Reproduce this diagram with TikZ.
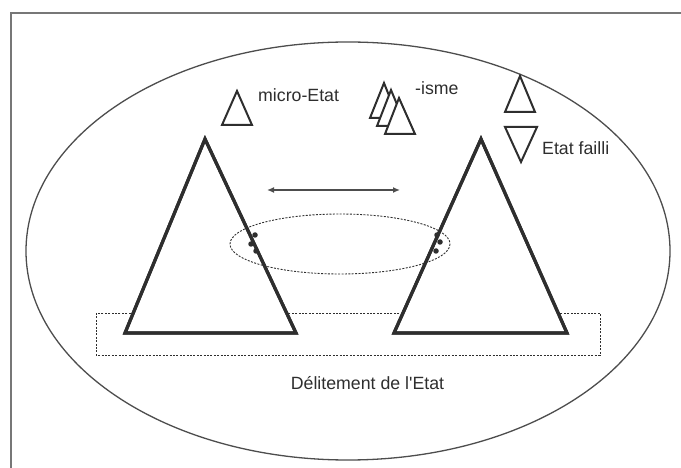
\documentclass[tikz,border=0pt]{standalone}
\usepackage{fontspec}
\setmainfont{Liberation Sans}
\usetikzlibrary{arrows.meta}
\definecolor{ink}{HTML}{2E2E2E}
\definecolor{frameink}{HTML}{777777}
\tikzset{
  bigtri/.style={draw=ink,line width=3.2bp,line join=miter,fill=white},
  smalltri/.style={draw=ink,line width=2bp,line join=miter,fill=white},
  dotline/.style={draw=ink,line width=0.9bp,dash pattern=on 2bp off 1.4bp},
  lbl/.style={text=ink,inner sep=0pt,font=\fontsize{17.8}{21}\selectfont},
  spot/.style={circle,fill=ink,inner sep=0pt,minimum size=5.5bp}
}
\begin{document}
\begin{tikzpicture}[x=1bp,y=-1bp]
\useasboundingbox (0,0) rectangle (681,468);
% frame (only top and left visible)
\draw[frameink,line width=1.2bp] (681,13) -- (11,13) -- (11,468);
% big ellipse
\draw[ink!85,line width=1.3bp] (348,251) ellipse [x radius=322, y radius=209];
% dotted rectangle
\draw[dotline] (96,313) rectangle (600,355);
% small dashed ellipse
\draw[dotline] (340,244) ellipse [x radius=110, y radius=30];
% big triangles
\draw[bigtri] (205,139) -- (296,333) -- (125,333) -- cycle;
\draw[bigtri] (481,139) -- (567,333) -- (394,333) -- cycle;
% redraw dashed ellipse segments over triangles
\begin{scope}
\clip (205,139) -- (296,333) -- (125,333) -- cycle;
\draw[dotline] (340,244) ellipse [x radius=110, y radius=30];
\end{scope}
\begin{scope}
\clip (481,139) -- (567,333) -- (394,333) -- cycle;
\draw[dotline] (340,244) ellipse [x radius=110, y radius=30];
\end{scope}
\draw[bigtri,fill=none] (205,139) -- (296,333) -- (125,333) -- cycle;
\draw[bigtri,fill=none] (481,139) -- (567,333) -- (394,333) -- cycle;
% dots
\node[spot] (d1) at (255,235) {};
\node[spot] (d2) at (251,244) {};
\node[spot] (d3) at (256,251) {};
\node[spot] (d4) at (437,235) {};
\node[spot] (d5) at (440,242) {};
\node[spot] (d6) at (436,251) {};
% arrow
\coordinate (al) at (267,190);
\coordinate (ar) at (400,190);
\draw[ink!85,line width=1.3bp,{Latex[length=7bp,width=6bp]}-{Latex[length=7bp,width=6bp]}] (al) -- (ar);
% micro-Etat triangle
\draw[smalltri] (237,91) -- (252,125) -- (222,125) -- cycle;
\node[lbl,anchor=base west] (micro) at (258,102) {micro-Etat};
% -isme stack
\draw[smalltri] (384,83) -- (398,118) -- (370,118) -- cycle;
\draw[smalltri] (391,90) -- (406,126) -- (377,126) -- cycle;
\draw[smalltri] (399,98) -- (415,134) -- (385,134) -- cycle;
\node[lbl,anchor=base west] (isme) at (415,95) {-isme};
% Etat failli triangles
\draw[smalltri] (520,76) -- (535,112) -- (505,112) -- cycle;
\draw[smalltri] (505,127) -- (537,127) -- (521,162) -- cycle;
\node[lbl,anchor=base west] (failli) at (542,155) {Etat failli};
% bottom label
\node[lbl,anchor=base] (delit) at (367.5,389) {Délitement de l\textquotesingle Etat};
\end{tikzpicture}
\end{document}
